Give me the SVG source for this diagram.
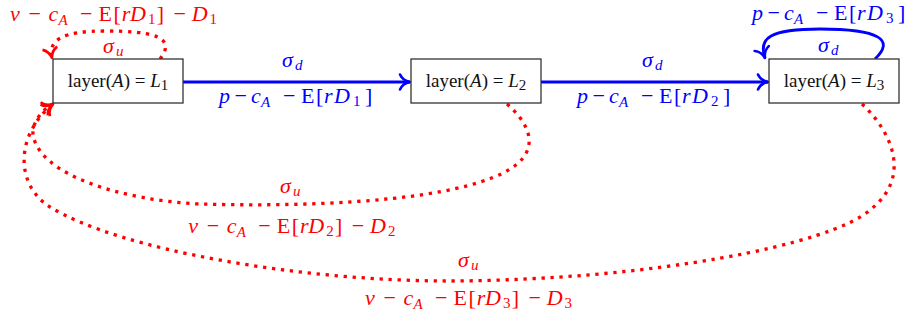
<svg xmlns="http://www.w3.org/2000/svg" width="910" height="320" viewBox="0 0 910 320">
<style>
.t{font-family:"Liberation Serif","DejaVu Serif",serif;font-size:22px}
.bt{font-family:"Liberation Serif","DejaVu Serif",serif;font-size:19px;fill:#111}
.i{font-style:italic}
.s{font-size:15px}
.red{fill:#f00}
.blue{fill:#00f}
.box{fill:#fff;stroke:#333;stroke-width:1.3}
.eb{fill:none;stroke:#00f;stroke-width:2.8}
.er{fill:none;stroke:#f00;stroke-width:3.3;stroke-dasharray:3.3 5.7}
.ahb{fill:none;stroke:#00f;stroke-width:2.6;stroke-linecap:round;stroke-linejoin:round}
.ahr{fill:none;stroke:#f00;stroke-width:2.6;stroke-linecap:butt;stroke-linejoin:round}
</style>
<defs>
<marker id="arrB" markerUnits="userSpaceOnUse" orient="auto" refX="0" refY="0" markerWidth="20" markerHeight="20" viewBox="-12 -10 14 20" overflow="visible">
<path class="ahb" d="M-10,-7.5 C-8,-3 -3,-0.6 0,0 C-3,0.6 -8,3 -10,7.5"/>
</marker>
<marker id="arrR" markerUnits="userSpaceOnUse" orient="auto" refX="0" refY="0" markerWidth="20" markerHeight="20" viewBox="-12 -10 14 20" overflow="visible">
<path class="ahr" d="M-10,-7.5 C-8,-3 -3,-0.6 0,0 C-3,0.6 -8,3 -10,7.5"/>
</marker>
</defs>

<g id="connectors">
<path class="eb" d="M183,82 H410" marker-end="url(#arrB)"/>
<path class="eb" d="M541,82 H768" marker-end="url(#arrB)"/>
<path class="eb" d="M875,59 C895,40 880,29 820,29 C770,29 758,38 765,58" marker-end="url(#arrB)"/>
<path class="er" d="M160,59 C178,36 150,31 105,31 C62,31 48,40 52,58" marker-end="url(#arrR)"/>
<path class="er" d="M507,104 C530,124 552,160 480,182 C420,202 300,207 200,204 C120,200 40,175 33,135 C32,122 42,110 53,104" marker-end="url(#arrR)"/>
<path class="er" d="M862,104 C888,128 915,175 870,210 C830,245 650,280 450,281 C300,281 120,250 50,207 C15,185 15,135 53,104" marker-end="url(#arrR)"/>
</g>

<g id="L1">
<rect class="box" x="53" y="59" width="130" height="44"/>
<text class="bt" x="118" y="87" text-anchor="middle">layer(<tspan class="i">A</tspan>) = <tspan class="i">L</tspan><tspan class="s" dy="3">1</tspan></text>
</g>
<g id="L2">
<rect class="box" x="411" y="59" width="130" height="44"/>
<text class="bt" x="476" y="87" text-anchor="middle">layer(<tspan class="i">A</tspan>) = <tspan class="i">L</tspan><tspan class="s" dy="3">2</tspan></text>
</g>
<g id="L3">
<rect class="box" x="769" y="59" width="130" height="44"/>
<text class="bt" x="834" y="87" text-anchor="middle">layer(<tspan class="i">A</tspan>) = <tspan class="i">L</tspan><tspan class="s" dy="3">3</tspan></text>
</g>

<g id="edge-labels">
<text class="t blue"><tspan class="i" x="282" y="67">σ</tspan><tspan class="i s" x="295" y="70">d</tspan></text>
<text class="t blue"><tspan class="i" x="219" y="103">p</tspan><tspan x="234.5" y="103">−</tspan><tspan class="i" x="251" y="103">c</tspan><tspan class="i s" x="261" y="107">A</tspan><tspan x="283" y="103">−</tspan><tspan x="301" y="103">E</tspan><tspan x="316" y="103">[</tspan><tspan class="i" x="324" y="103">r</tspan><tspan class="i" x="334" y="103">D</tspan><tspan class="s" x="353" y="106">1</tspan><tspan x="365" y="103">]</tspan></text>

<text class="t blue"><tspan class="i" x="642" y="67">σ</tspan><tspan class="i s" x="655" y="70">d</tspan></text>
<text class="t blue"><tspan class="i" x="577" y="103">p</tspan><tspan x="592.5" y="103">−</tspan><tspan class="i" x="609" y="103">c</tspan><tspan class="i s" x="619" y="107">A</tspan><tspan x="641" y="103">−</tspan><tspan x="659" y="103">E</tspan><tspan x="674" y="103">[</tspan><tspan class="i" x="682" y="103">r</tspan><tspan class="i" x="692" y="103">D</tspan><tspan class="s" x="711" y="106">2</tspan><tspan x="723" y="103">]</tspan></text>

<text class="t blue"><tspan class="i" x="818" y="52">σ</tspan><tspan class="i s" x="831" y="55">d</tspan></text>
<text class="t blue"><tspan class="i" x="752" y="20">p</tspan><tspan x="767.5" y="20">−</tspan><tspan class="i" x="784" y="20">c</tspan><tspan class="i s" x="794" y="24">A</tspan><tspan x="816" y="20">−</tspan><tspan x="834" y="20">E</tspan><tspan x="849" y="20">[</tspan><tspan class="i" x="857" y="20">r</tspan><tspan class="i" x="867" y="20">D</tspan><tspan class="s" x="886" y="23">3</tspan><tspan x="898" y="20">]</tspan></text>

<text class="t red"><tspan class="i" x="103" y="53">σ</tspan><tspan class="i s" x="116" y="56">u</tspan></text>
<text class="t red"><tspan class="i" x="10" y="21">v</tspan><tspan x="28.4" y="21">−</tspan><tspan class="i" x="48.4" y="21">c</tspan><tspan class="i s" x="58.4" y="25">A</tspan><tspan x="80" y="21">−</tspan><tspan x="98.4" y="21">E</tspan><tspan x="113.4" y="21">[</tspan><tspan class="i" x="121.7" y="21">r</tspan><tspan class="i" x="130" y="21">D</tspan><tspan class="s" x="148" y="24">1</tspan><tspan x="156.7" y="21">]</tspan><tspan x="173.4" y="21">−</tspan><tspan class="i" x="191.7" y="21">D</tspan><tspan class="s" x="209.5" y="24">1</tspan></text>

<text class="t red"><tspan class="i" x="280" y="193">σ</tspan><tspan class="i s" x="293" y="196">u</tspan></text>
<text class="t red"><tspan class="i" x="188.3" y="233">v</tspan><tspan x="206.7" y="233">−</tspan><tspan class="i" x="226.7" y="233">c</tspan><tspan class="i s" x="236.7" y="237">A</tspan><tspan x="258.3" y="233">−</tspan><tspan x="276.7" y="233">E</tspan><tspan x="291.7" y="233">[</tspan><tspan class="i" x="300" y="233">r</tspan><tspan class="i" x="308.3" y="233">D</tspan><tspan class="s" x="326.3" y="236">2</tspan><tspan x="335" y="233">]</tspan><tspan x="351.7" y="233">−</tspan><tspan class="i" x="370" y="233">D</tspan><tspan class="s" x="388" y="236">2</tspan></text>

<text class="t red"><tspan class="i" x="458" y="267">σ</tspan><tspan class="i s" x="471" y="270">u</tspan></text>
<text class="t red"><tspan class="i" x="365" y="305">v</tspan><tspan x="383.4" y="305">−</tspan><tspan class="i" x="403.4" y="305">c</tspan><tspan class="i s" x="413.4" y="309">A</tspan><tspan x="435" y="305">−</tspan><tspan x="453.4" y="305">E</tspan><tspan x="468.4" y="305">[</tspan><tspan class="i" x="476.7" y="305">r</tspan><tspan class="i" x="485" y="305">D</tspan><tspan class="s" x="503" y="308">3</tspan><tspan x="511.7" y="305">]</tspan><tspan x="528.4" y="305">−</tspan><tspan class="i" x="546.7" y="305">D</tspan><tspan class="s" x="564.6" y="308">3</tspan></text>
</g>
</svg>
